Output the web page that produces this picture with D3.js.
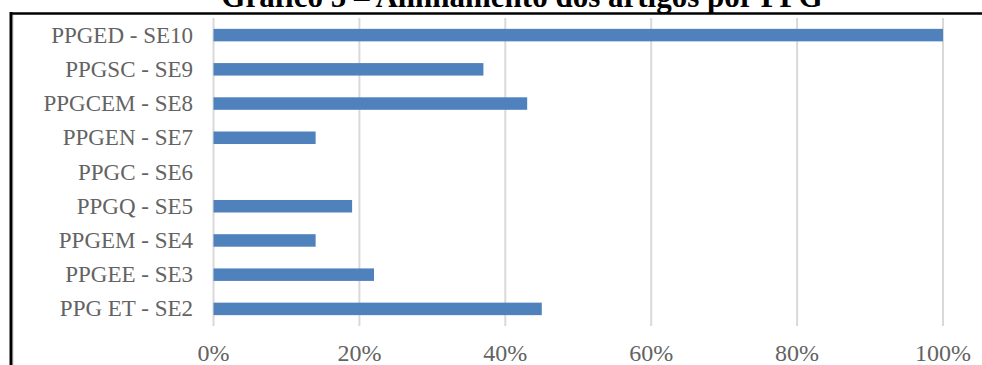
<!DOCTYPE html>
<html>
<head>
<meta charset="utf-8">
<script src="https://cdn.jsdelivr.net/npm/d3@7"></script>
<style>
  body { margin: 0; background: #fff; }
</style>
</head>
<body>
<div id="chart"></div>
<script>
var categories = ["PPGED - SE10", "PPGSC - SE9", "PPGCEM - SE8", "PPGEN - SE7", "PPGC - SE6",
                  "PPGQ - SE5", "PPGEM - SE4", "PPGEE - SE3", "PPG ET - SE2"];
var values = [100, 37, 43, 14, 0, 19, 14, 22, 45];
var tickValues = [0, 20, 40, 60, 80, 100];
var title = "Gráfico 5 – Alinhamento dos artigos por PPG";

var width = 982, height = 365;

var svg = d3.select("#chart").append("svg")
    .attr("width", width)
    .attr("height", height);

// title (cut off at the top in the source)
svg.append("text")
    .attr("x", 522)
    .attr("y", 7)
    .attr("text-anchor", "middle")
    .style("font-family", "Liberation Serif")
    .style("font-weight", "bold")
    .style("font-size", "31px")
    .style("fill", "#000")
    .text(title);

// frame
svg.append("line").attr("x1", 10).attr("x2", width).attr("y1", 13.5).attr("y2", 13.5)
    .style("stroke", "#000").style("stroke-width", 2.5);
svg.append("line").attr("x1", 11).attr("x2", 11).attr("y1", 12).attr("y2", height)
    .style("stroke", "#000").style("stroke-width", 3);
svg.append("line").attr("x1", 13.5).attr("x2", 13.5).attr("y1", 15).attr("y2", height)
    .style("stroke", "#e6e6e6").style("stroke-width", 1);

var x = d3.scaleLinear().domain([0, 100]).range([213.5, 943]);
var y = d3.scaleBand().domain(categories).range([18, 326])
    .paddingInner(0.635).paddingOuter(0.3175);

// gridlines
svg.append("g").selectAll("line").data(tickValues).enter().append("line")
    .attr("x1", function(d) { return x(d); })
    .attr("x2", function(d) { return x(d); })
    .attr("y1", 18)
    .attr("y2", 326)
    .style("stroke", "#d9d9d9")
    .style("stroke-width", 2);

// bars
svg.append("g").selectAll("rect").data(values).enter().append("rect")
    .attr("x", x(0))
    .attr("y", function(d, i) { return y(categories[i]); })
    .attr("width", function(d) { return x(d) - x(0); })
    .attr("height", y.bandwidth())
    .style("fill", "#4f81bd");

// category labels
svg.append("g").selectAll("text").data(categories).enter().append("text")
    .attr("x", 193)
    .attr("y", function(d) { return y(d) + y.bandwidth() / 2 + 7.5; })
    .attr("text-anchor", "end")
    .style("font-family", "Liberation Serif")
    .style("font-size", "23px")
    .style("fill", "#636363")
    .text(function(d) { return d; });

// x axis labels
svg.append("g").selectAll("text").data(tickValues).enter().append("text")
    .attr("x", function(d) { return x(d); })
    .attr("y", 361)
    .attr("text-anchor", "middle")
    .style("font-family", "Liberation Serif")
    .style("font-size", "24px")
    .style("fill", "#636363")
    .text(function(d) { return d + "%"; });
</script>
</body>
</html>
